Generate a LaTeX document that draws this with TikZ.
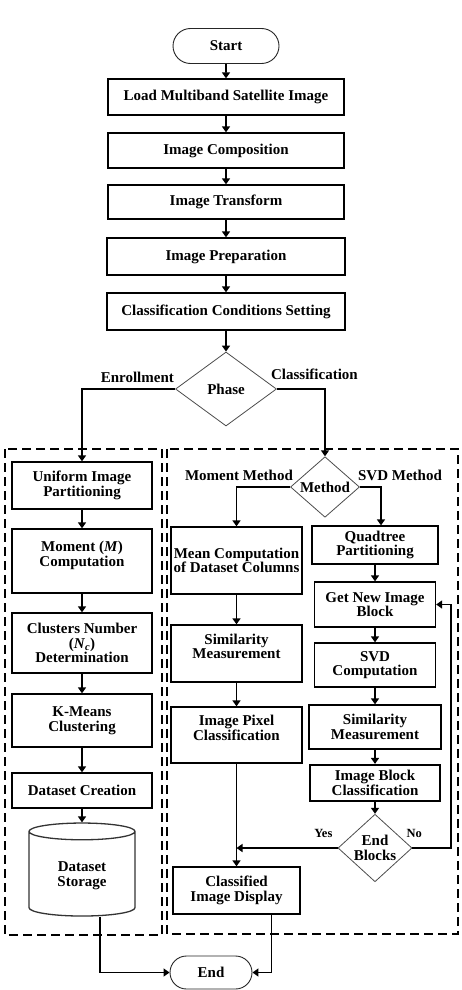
\documentclass[tikz,border=0pt]{standalone}
\usepackage{fontspec}
\setmainfont{Liberation Serif}
\usetikzlibrary{arrows.meta}
\usetikzlibrary{shapes.geometric}
\usetikzlibrary{shapes.misc}

\begin{document}
\begin{tikzpicture}[x=1pt, y=-1pt, >={Triangle[length=6pt, width=8pt]},
    font=\fontsize{15}{14.5}\selectfont\bfseries,
    box/.style={draw, line width=1.3pt, align=center, inner sep=2pt},
    dec/.style={diamond, draw=black!70, line width=0.8pt, inner sep=0pt, align=center},
    term/.style={rounded rectangle, draw=black!85, line width=0.9pt, inner sep=0pt},
    flow/.style={->, line width=1.6pt},
    lbl/.style={inner sep=0pt},
    grp/.style={line width=2.5pt, dash pattern=on 9pt off 5pt}]
    \useasboundingbox (0,0) rectangle (461,990);

    % Dashed groups
    \draw[grp] (5,449) rectangle (162,935);
    \draw[grp] (167,449) rectangle (458,934);

    % Main stem
    \node[term, minimum width=106pt, minimum height=35pt] (start) at (226,46) {Start};
    \node[box, minimum width=236pt, minimum height=36pt] (load) at (226,97) {Load Multiband Satellite Image};
    \node[box, minimum width=236pt, minimum height=35pt] (comp) at (226,150.5) {Image Composition};
    \node[box, minimum width=236pt, minimum height=34pt] (trans) at (226,202) {Image Transform};
    \node[box, minimum width=238pt, minimum height=37pt] (prep) at (226,256.5) {Image Preparation};
    \node[box, minimum width=238pt, minimum height=37pt] (cond) at (226,311.5) {Classification Conditions Setting};
    \node[dec, minimum width=101pt, minimum height=74pt] (phase) at (226,389) {Phase};

    \foreach \a/\b in {start/load, load/comp, comp/trans, trans/prep, prep/cond, cond/phase}
        \draw[flow] (\a) -- (\b);

    % Enrollment branch
    \node[box, minimum width=140pt, minimum height=47pt] (unif) at (82,485.5) {Uniform Image\\Partitioning};
    \node[box, minimum width=140pt, minimum height=64pt] (mom) at (82,561) {Moment (\textit{M})\\Computation\\ \mbox{}};
    \node[box, minimum width=140pt, minimum height=60pt] (clus) at (82,643) {Clusters Number\\(\textit{N}\textsubscript{\textit{c}})\\Determination};
    \node[box, minimum width=140pt, minimum height=53pt] (kmns) at (82,720.5) {K-Means\\Clustering};
    \node[box, minimum width=140pt, minimum height=35pt] (dcre) at (82,790.5) {Dataset Creation};
    \node[cylinder, shape border rotate=90, draw=black!80, line width=1.3pt, aspect=0.3,
          minimum width=106pt, minimum height=93pt, align=center] (store) at (82,875.5) {Dataset\\Storage};

    \draw[flow] (phase.west) -| (unif.north);
    \foreach \a/\b in {unif/mom, mom/clus, clus/kmns, kmns/dcre, dcre/store}
        \draw[flow] (\a) -- (\b);

    % Classification branch
    \node[dec, minimum width=69pt, minimum height=60pt] (meth) at (325,487) {Method};
    \node[box, minimum width=131pt, minimum height=67pt] (mean) at (236.5,560.5) {Mean Computation\\of Dataset Columns};
    \node[box, minimum width=131pt, minimum height=57pt] (simA) at (236.5,653.5) {Similarity\\Measurement\\ \mbox{}};
    \node[box, minimum width=131pt, minimum height=56pt] (pix) at (236.5,735) {Image Pixel\\Classification\\ \mbox{}};
    \node[box, minimum width=127pt, minimum height=47pt] (disp) at (236.5,890.5) {Classified\\Image Display};

    \node[box, minimum width=126pt, minimum height=38pt] (quad) at (375,545) {Quadtree\\Partitioning};
    \node[box, minimum width=121pt, minimum height=45pt] (getb) at (375,604.5) {Get New Image\\Block};
    \node[box, minimum width=121pt, minimum height=44pt] (svd) at (375,665) {SVD\\Computation};
    \node[box, minimum width=132pt, minimum height=44pt] (simB) at (375,727) {Similarity\\Measurement};
    \node[box, line width=2.2pt, minimum width=130pt, minimum height=36pt] (blkc) at (375,783) {Image Block\\Classification};
    \node[dec, minimum width=74pt, minimum height=61pt] (endb) at (375,848) {End\\Blocks};
    \coordinate (loop) at (451,604.5);

    \draw[flow] (phase.east) -| (meth.north);
    \draw[flow] (meth.west) -| (mean.north);
    \draw[flow] (meth.east) -| ([xshift=6pt]quad.north);
    \foreach \a/\b in {mean/simA, simA/pix, pix/disp, quad/getb, getb/svd, svd/simB, simB/blkc, blkc/endb}
        \draw[flow] (\a) -- (\b);
    \draw[flow] (endb.west) -- (endb.west -| pix.south);
    \draw[flow] (endb.east) -| (loop) -- (getb.east);

    % Branch labels
    \node[lbl, anchor=base east] (enrl) at ([shift={(-1pt,7pt)}]phase.west) {Enrollment};
    \node[lbl, anchor=base west] (clsf) at ([shift={(-6pt,10pt)}]phase.east) {Classification};
    \node[lbl, anchor=base east] (mlbl) at ([shift={(3pt,7pt)}]meth.west) {Moment Method};
    \node[lbl, anchor=base west] (slbl) at ([shift={(-2pt,7pt)}]meth.east) {SVD Method};
    \node[lbl, anchor=base east, font=\fontsize{12.5}{13}\selectfont\bfseries] (yes) at ([shift={(-5pt,11pt)}]endb.west) {Yes};
    \node[lbl, anchor=base west, font=\fontsize{12.5}{13}\selectfont\bfseries] (no) at ([shift={(-6pt,11pt)}]endb.east) {No};

    % End
    \node[term, minimum width=82pt, minimum height=33pt] (end) at (211,972.5) {End};
    \draw[flow] ([xshift=18pt]store.south) |- (end.west);
    \draw[flow] ([xshift=35pt]disp.south) |- (end.east);
\end{tikzpicture}
\end{document}
